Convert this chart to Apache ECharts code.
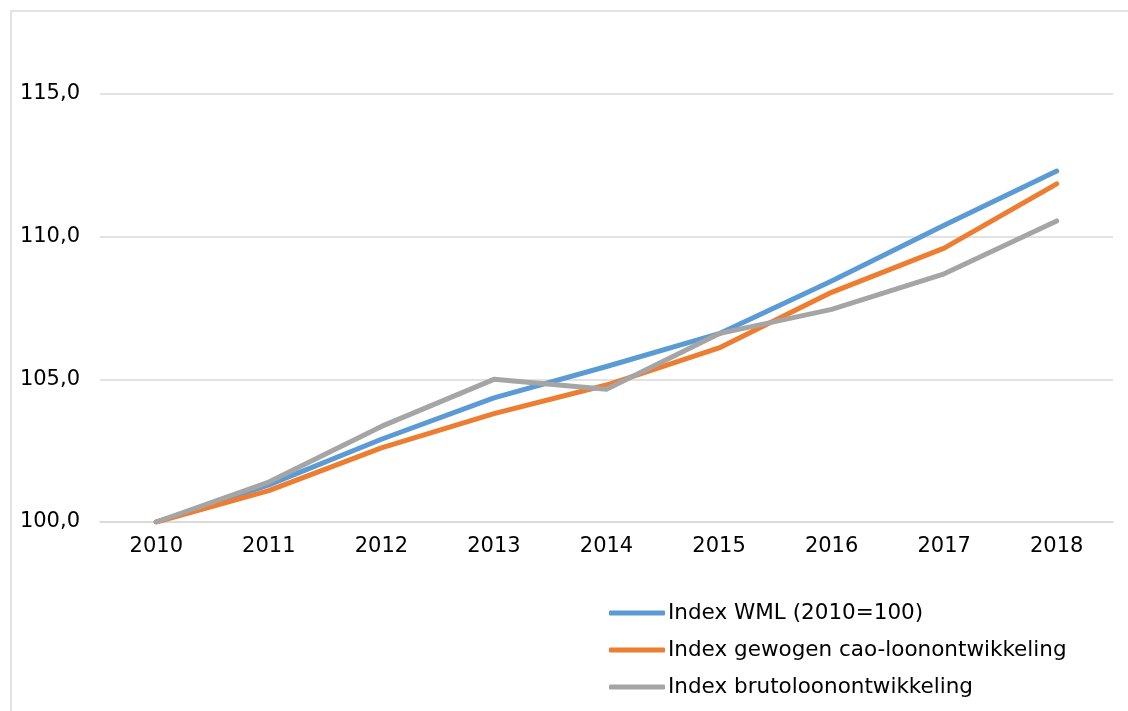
<!DOCTYPE html>
<html>
<head>
<meta charset="utf-8">
<script src="https://cdn.jsdelivr.net/npm/echarts@6/dist/echarts.min.js"></script>
<style>
html,body{margin:0;padding:0;background:#fff;}
#chart{width:1128px;height:711px;}
</style>
</head>
<body>
<div id="chart"></div>
<script>
const years = ['2010','2011','2012','2013','2014','2015','2016','2017','2018'];
const seriesNames = ['Index WML (2010=100)','Index gewogen cao-loonontwikkeling','Index brutoloonontwikkeling'];
const wml = [100, 101.3, 102.9, 104.35, 105.45, 106.6, 108.45, 110.4, 112.3];
const cao = [100, 101.1, 102.6, 103.8, 104.8, 106.1, 108.05, 109.6, 111.85];
const bruto = [100, 101.4, 103.35, 105.0, 104.65, 106.6, 107.45, 108.7, 110.55];
const colors = ['#5B9BD5', '#ED7D31', '#A5A5A5'];

const chart = echarts.init(document.getElementById('chart'), null, {renderer: 'canvas'});
const font = 'DejaVu Sans, Verdana, sans-serif';
function mk(name, data, color) {
  return {
    name: name, type: 'line', data: data, showSymbol: false, symbol: 'none',
    lineStyle: {color: color, width: 5, cap: 'round', join: 'round'},
    itemStyle: {color: color}
  };
}
chart.setOption({
  animation: false,
  backgroundColor: '#fff',
  graphic: [{
    type: 'polyline', silent: true,
    shape: {points: [[11, 760], [11, 11], [1200, 11]]},
    style: {fill: 'none', stroke: '#d9d9d9', lineWidth: 1.5}
  }],
  grid: {left: 100, right: 15, top: 94, bottom: 189, containLabel: false},
  xAxis: {
    type: 'category', data: years, boundaryGap: true,
    axisLine: {show: true, lineStyle: {color: '#d9d9d9', width: 1.5}},
    axisTick: {show: false},
    axisLabel: {color: '#000', fontFamily: font, fontSize: 21, margin: 14}
  },
  yAxis: {
    type: 'value', min: 100, max: 115, interval: 5,
    axisLine: {show: false}, axisTick: {show: false},
    splitLine: {lineStyle: {color: '#d9d9d9', width: 1.5}},
    axisLabel: {color: '#000', fontFamily: font, fontSize: 21, margin: 20,
      formatter: v => v.toFixed(1).replace('.', ',')}
  },
  legend: {
    orient: 'vertical', left: 609, top: 601, padding: 0, height: 110,
    icon: 'roundRect', itemWidth: 56, itemHeight: 5, itemGap: 13,
    textStyle: {color: '#000', fontFamily: font, fontSize: 21.5, lineHeight: 24, padding: [0,0,0,-2]},
    data: seriesNames
  },
  series: [
    mk(seriesNames[0], wml, colors[0]),
    mk(seriesNames[1], cao, colors[1]),
    mk(seriesNames[2], bruto, colors[2])
  ]
});
</script>
</body>
</html>
